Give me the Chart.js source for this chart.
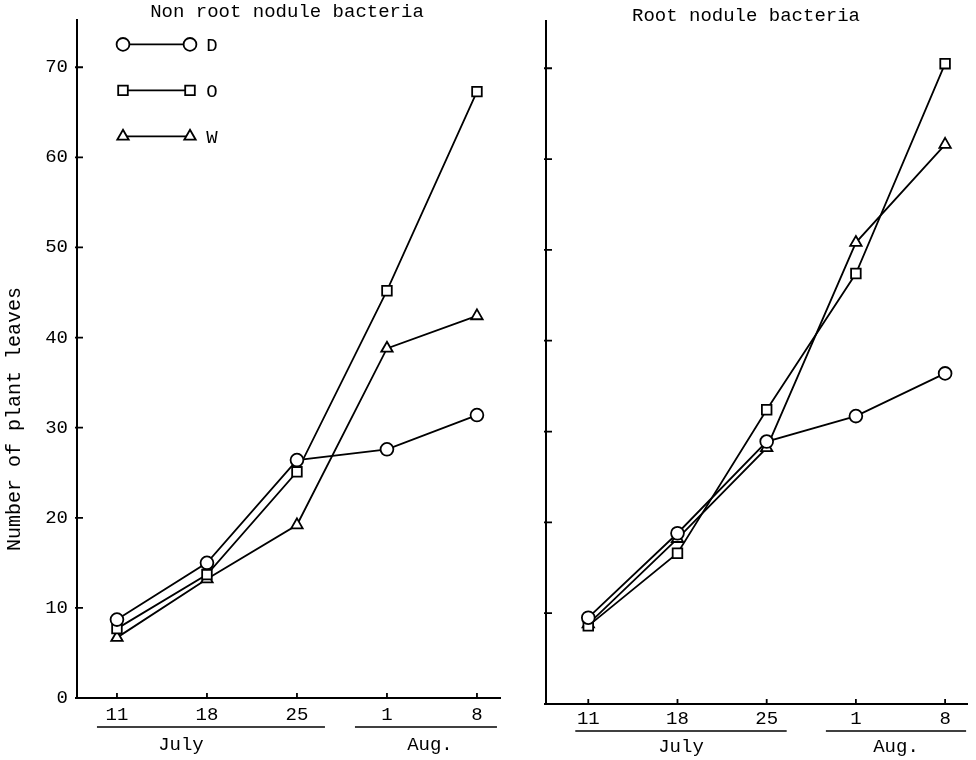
<!DOCTYPE html>
<html>
<head>
<meta charset="utf-8">
<title>Number of plant leaves</title>
<script src="https://cdn.jsdelivr.net/npm/chart.js@4.4.1/dist/chart.umd.min.js"></script>
<style>
  html, body { margin: 0; padding: 0; background: #fff; }
  #wrap { position: relative; width: 976px; height: 760px; overflow: hidden; }
  .panel { position: absolute; top: 0; height: 760px; }
  #left { left: 0; width: 510px; }
  #right { left: 510px; width: 466px; }
</style>
</head>
<body>
<div id="wrap">
  <div class="panel" id="left"><canvas id="chartLeft" width="510" height="760"></canvas></div>
  <div class="panel" id="right"><canvas id="chartRight" width="466" height="760"></canvas></div>
</div>
<script>
// sampling dates and the months they fall in
const dates = ['11', '18', '25', '1', '8'];
const months = ['July', 'Aug.'];
const monthSpans = [[0, 2], [3, 4]];
const yTicks = [0, 10, 20, 30, 40, 50, 60, 70];
const seriesNames = ['D', 'O', 'W'];

// non root nodule bacteria
const nonNoduleD = [8.7, 15.0, 26.4, 27.6, 31.4];
const nonNoduleO = [7.7, 13.7, 25.1, 45.2, 67.3];
const nonNoduleW = [6.7, 13.2, 19.2, 38.8, 42.4];

// root nodule bacteria
const noduleD = [9.5, 18.8, 28.9, 31.7, 36.4];
const noduleO = [8.6, 16.6, 32.4, 47.4, 70.5];
const noduleW = [8.8, 18.2, 28.2, 50.8, 61.6];

const FONT = "'Liberation Mono', 'Courier New', monospace";
const INK = '#000';
const pointStyles = ['circle', 'rect', 'triangle'];
const pointSizes = [6.4, 6.8, 6.6];

function makeDatasets(series) {
  return series.map((vals, i) => ({
    label: seriesNames[i],
    data: vals.map((v, k) => ({ x: k, y: v })),
    borderColor: INK,
    borderWidth: 1.8,
    pointStyle: pointStyles[i],
    pointRadius: pointSizes[i],
    pointBackgroundColor: '#fff',
    pointBorderColor: INK,
    pointBorderWidth: 1.8,
    tension: 0,
    fill: false,
  }));
}

function drawMarker(ctx, ds, px, py) {
  const opts = { pointStyle: ds.pointStyle, radius: ds.pointRadius, borderWidth: ds.pointBorderWidth, rotation: 0 };
  if (Chart.helpers && Chart.helpers.drawPoint) {
    Chart.helpers.drawPoint(ctx, opts, px, py);
    return;
  }
  ctx.beginPath();
  ctx.arc(px, py, ds.pointRadius, 0, Math.PI * 2);
  ctx.fill();
  ctx.stroke();
}

const decorations = {
  id: 'decorations',
  afterDraw(chart, args, opts) {
    const { ctx, chartArea: area, scales: { x, y } } = chart;
    ctx.save();
    ctx.strokeStyle = INK;
    ctx.fillStyle = INK;
    ctx.lineWidth = 1.8;

    // tick marks point inward on both axes
    ctx.beginPath();
    y.ticks.forEach((t) => {
      const py = y.getPixelForValue(t.value);
      ctx.moveTo(area.left - 2, py);
      ctx.lineTo(area.left + 6, py);
    });
    x.ticks.forEach((t) => {
      const px = x.getPixelForValue(t.value);
      ctx.moveTo(px, area.bottom + 1);
      ctx.lineTo(px, area.bottom - 5);
    });
    ctx.stroke();

    // month brackets under the dates
    ctx.font = `19px ${FONT}`;
    ctx.textAlign = 'center';
    ctx.textBaseline = 'alphabetic';
    months.forEach((m, i) => {
      const [a, b] = monthSpans[i];
      const x0 = x.getPixelForValue(a) + opts.monthPad[i][0];
      const x1 = x.getPixelForValue(b) + opts.monthPad[i][1];
      ctx.lineWidth = 1.6;
      ctx.beginPath();
      ctx.moveTo(x0, area.bottom + opts.ruleGap);
      ctx.lineTo(x1, area.bottom + opts.ruleGap);
      ctx.stroke();
      ctx.fillText(m, (x0 + x1) / 2 + opts.monthShift[i], area.bottom + opts.monthGap);
    });

    // panel title
    ctx.fillText(opts.title, opts.titleX, opts.titleY);

    if (opts.yTitle) {
      ctx.save();
      ctx.translate(15, 419);
      ctx.rotate(-Math.PI / 2);
      ctx.font = `20px ${FONT}`;
      ctx.textBaseline = 'middle';
      ctx.fillText(opts.yTitle, 0, 0);
      ctx.restore();
    }

    if (opts.legend) {
      ctx.font = `19px ${FONT}`;
      chart.data.datasets.forEach((ds, i) => {
        const rowY = area.top + 24 + i * 46;
        const xa = area.left + 46;
        const xb = area.left + 113;
        ctx.strokeStyle = INK;
        ctx.lineWidth = ds.borderWidth;
        ctx.beginPath();
        ctx.moveTo(xa, rowY);
        ctx.lineTo(xb, rowY);
        ctx.stroke();
        ctx.fillStyle = '#fff';
        drawMarker(ctx, ds, xa, rowY);
        drawMarker(ctx, ds, xb, rowY);
        ctx.fillStyle = INK;
        ctx.fillText(ds.label, area.left + 135, rowY + 7);
      });
    }
    ctx.restore();
  },
};

function makeChart(id, series, cfg) {
  return new Chart(document.getElementById(id), {
    type: 'line',
    data: { datasets: makeDatasets(series) },
    plugins: [decorations],
    options: {
      responsive: false,
      animation: false,
      events: [],
      layout: { padding: cfg.padding },
      plugins: {
        legend: { display: false },
        tooltip: { enabled: false },
        decorations: cfg.deco,
      },
      scales: {
        x: {
          type: 'linear',
          min: cfg.xMin,
          max: cfg.xMax,
          grid: { display: false, drawTicks: false },
          border: { display: true, color: INK, width: 2 },
          afterBuildTicks: (scale) => { scale.ticks = dates.map((_, i) => ({ value: i })); },
          afterFit: (scale) => { scale.height = cfg.xHeight; },
          ticks: {
            padding: cfg.xPad,
            color: INK,
            font: { family: FONT, size: 19 },
            maxRotation: 0,
            callback: (v) => dates[v],
          },
        },
        y: {
          min: 0,
          max: cfg.yMax,
          grid: { display: false, drawTicks: false },
          border: { display: true, color: INK, width: 2 },
          afterBuildTicks: (scale) => { scale.ticks = yTicks.map((v) => ({ value: v })); },
          afterFit: (scale) => { scale.width = cfg.yWidth; },
          ticks: {
            display: cfg.yLabels,
            padding: 9,
            color: INK,
            font: { family: FONT, size: 19 },
          },
        },
      },
    },
  });
}

makeChart('chartLeft', [nonNoduleD, nonNoduleO, nonNoduleW], {
  padding: { top: 18, right: 10, left: 0, bottom: 0 },
  xMin: -0.444, xMax: 4.256, yMax: 75.2,
  xHeight: 62, yWidth: 77, yLabels: true, xPad: 6,
  deco: {
    title: 'Non root nodule bacteria', titleX: 287, titleY: 17,
    yTitle: 'Number of plant leaves', legend: true,
    monthPad: [[-20, 28], [-32, 20]], monthShift: [-30, 4],
    ruleGap: 29, monthGap: 52,
  },
});

makeChart('chartRight', [noduleD, noduleO, noduleW], {
  padding: { top: 21, right: 1, left: 0, bottom: 0 },
  xMin: -0.474, xMax: 4.25, yMax: 75.2,
  xHeight: 56, yWidth: 36, yLabels: false, xPad: 4,
  deco: {
    title: 'Root nodule bacteria', titleX: 236, titleY: 21,
    yTitle: null, legend: false,
    monthPad: [[-13, 20], [-30, 21]], monthShift: [0, 0],
    ruleGap: 27, monthGap: 48,
  },
});
</script>
</body>
</html>
